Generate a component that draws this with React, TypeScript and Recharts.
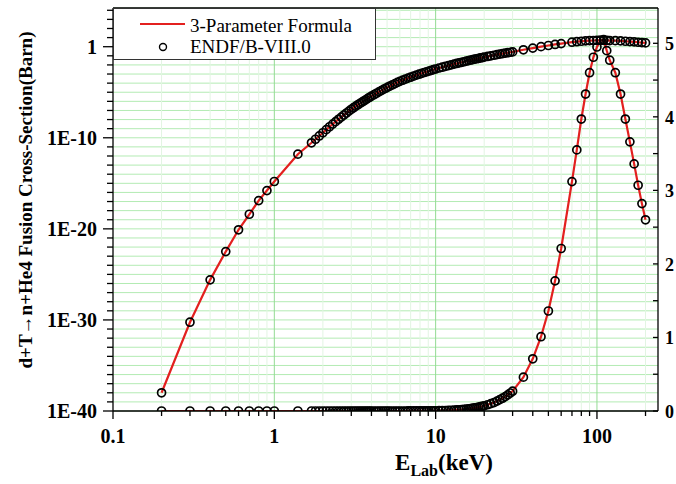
import { ComposedChart, Line, XAxis, YAxis, CartesianGrid, ReferenceLine, Legend } from "recharts";

const FONT = "'Liberation Serif', 'Times New Roman', serif";
const RED = "#e3201f";

// lab energy (keV), ENDF/B-VIII.0 points
const energy = [
  0.2, 0.3, 0.4, 0.5, 0.6, 0.7, 0.8, 0.9, 1.0, 1.4, 1.7,
  1.8, 1.9, 2.0, 2.1, 2.2, 2.3, 2.4, 2.5, 2.6, 2.7, 2.8, 2.9,
  3.0, 3.1, 3.2, 3.3, 3.4, 3.5, 3.6, 3.7, 3.8, 3.9,
  4.0, 4.15, 4.3, 4.45, 4.6, 4.75, 4.9, 5.05, 5.2, 5.4, 5.6, 5.8,
  6.0, 6.25, 6.5, 6.75, 7.0, 7.3, 7.6, 7.9, 8.2, 8.5, 8.8, 9.1, 9.4, 9.7,
  10, 10.5, 11, 11.5, 12, 12.5, 13, 13.5, 14, 14.5,
  15, 15.5, 16, 16.5, 17, 17.5, 18, 18.5, 19, 19.5,
  20, 21, 22, 23, 24, 25, 26, 27, 28, 29, 30,
  35, 40, 45, 50, 55, 60, 70, 75, 80, 85, 90, 95, 100, 105, 110,
  115, 120, 130, 140, 150, 160, 170, 180, 190, 200,
];

// cross-section (barn)
const sigma = [
  1.0e-38, 5.6e-31, 2.5e-26, 3.2e-23, 7.9e-21, 4.0e-19, 1.26e-17, 1.6e-16, 1.58e-15, 1.58e-12, 2.82e-11,
  6.92e-11, 1.58e-10, 3.55e-10, 7.76e-10, 1.62e-9, 3.16e-9, 5.89e-9, 1.07e-8, 1.86e-8, 3.16e-8, 5.25e-8, 8.51e-8,
  1.35e-7, 2.0e-7, 2.95e-7, 4.27e-7, 6.03e-7, 8.32e-7, 1.15e-6, 1.55e-6, 2.09e-6, 2.82e-6,
  3.72e-6, 5.37e-6, 7.76e-6, 1.1e-5, 1.51e-5, 2.04e-5, 2.75e-5, 3.63e-5, 4.68e-5, 6.61e-5, 8.91e-5, 1.2e-4,
  1.58e-4, 2.09e-4, 2.75e-4, 3.55e-4, 4.47e-4, 5.89e-4, 7.59e-4, 9.55e-4, 1.2e-3, 1.48e-3, 1.78e-3, 2.14e-3, 2.57e-3, 3.02e-3,
  3.55e-3, 4.57e-3, 5.62e-3, 7.08e-3, 8.51e-3, 1.02e-2, 1.23e-2, 1.45e-2, 1.7e-2, 1.95e-2,
  2.24e-2, 2.57e-2, 2.95e-2, 3.39e-2, 3.8e-2, 4.27e-2, 4.79e-2, 5.25e-2, 5.89e-2, 6.46e-2,
  7.08e-2, 8.51e-2, 0.1, 0.115, 0.135, 0.155, 0.174, 0.195, 0.219, 0.245, 0.269,
  0.46, 0.71, 1.01, 1.36, 1.77, 2.21, 3.12, 3.55, 3.97, 4.31, 4.6, 4.81, 4.95, 5.04, 5.05,
  4.9, 4.77, 4.6, 4.31, 3.97, 3.66, 3.36, 3.07, 2.82, 2.6,
];

const xMajorTicks = [0.1, 1, 10, 100];
const xMinorTicks = [0.2, 0.3, 0.4, 0.5, 0.6, 0.7, 0.8, 0.9, 2, 3, 4, 5, 6, 7, 8, 9, 20, 30, 40, 50, 60, 70, 80, 90, 200];
const logTickLabels: Record<number, string> = { [-40]: "1E-40", [-30]: "1E-30", [-20]: "1E-20", [-10]: "1E-10", 0: "1" };
const linTicks = [0, 0.5, 1, 1.5, 2, 2.5, 3, 3.5, 4, 4.5, 5];

const data = energy.map((e, i) => ({ e, s: sigma[i] }));
const xTicks = [...xMajorTicks, ...xMinorTicks].sort((a, b) => a - b);
const logTicks = Array.from({ length: 45 }, (_, i) => Number(`1e${i - 40}`));
const LOG_MAX = 1.78e4;

const labelStyle = { fontSize: 20, fontWeight: "bold" as const, fontFamily: FONT, fill: "#000" };
const endfDot = { r: 4, stroke: "#000", strokeWidth: 1.7, fill: "none" };

function XTick({ x, y, payload }: any) {
  const v = payload.value;
  const major = xMajorTicks.includes(v);
  return (
    <g>
      <line x1={x} x2={x} y1={y} y2={y + (major ? 8 : 5)} stroke="#000" strokeWidth={1.3} />
      {major && (
        <text x={x} y={y + 32} textAnchor="middle" {...labelStyle}>{String(v)}</text>
      )}
    </g>
  );
}

function LogTick({ x, y, payload }: any) {
  const k = Math.round(Math.log10(payload.value));
  const label = logTickLabels[k];
  return (
    <g>
      <line x1={x - (label ? 10 : 6)} x2={x} y1={y} y2={y} stroke="#000" strokeWidth={1.3} />
      {label && (
        <text x={x - 16} y={y + 7} textAnchor="end" {...labelStyle}>{label}</text>
      )}
    </g>
  );
}

function LinTick({ x, y, payload }: any) {
  const v = payload.value;
  return (
    <g>
      <line x1={x - 5} x2={x} y1={y} y2={y} stroke="#000" strokeWidth={1.3} />
      {Number.isInteger(v) && (
        <text x={x + 7} y={y + 7} textAnchor="start" {...labelStyle} fontSize={18}>{String(v)}</text>
      )}
    </g>
  );
}

function LegendBox() {
  return (
    <svg width={263} height={52} style={{ display: "block" }}>
      <rect x={0.5} y={0.5} width={262} height={51} fill="#fff" stroke="#333" />
      <line x1={27} x2={72} y1={16} y2={16} stroke={RED} strokeWidth={2.2} />
      <text x={77} y={24} fontSize={19} fontFamily={FONT} fill="#000">3-Parameter Formula</text>
      <circle cx={50} cy={39} r={3.5} fill="none" stroke="#000" strokeWidth={1.4} />
      <text x={77} y={45} fontSize={19} fontFamily={FONT} fill="#000">ENDF/B-VIII.0</text>
    </svg>
  );
}

const yTitle = () => (
  <text x={25} y={200} transform="rotate(-90 25 200)" textAnchor="middle" dominantBaseline="central"
    fontSize={19} fontWeight="bold" fontFamily={FONT} fill="#000">
    d+T→n+He4 Fusion Cross-Section(Barn)
  </text>
);

const xTitle = () => (
  <text x={444} y={470} textAnchor="middle" fontSize={23} fontWeight="bold" fontFamily={FONT} fill="#000">
    <tspan>E</tspan>
    <tspan dy={6} fontSize={16}>Lab</tspan>
    <tspan dy={-6}>(keV)</tspan>
  </text>
);

export default function App() {
  return (
    <div style={{ position: "absolute", left: 0, top: 0, background: "#fff" }}>
      <ComposedChart width={676} height={484} data={data} margin={{ top: 8, right: 0, left: 0, bottom: 0 }}>
        <CartesianGrid yAxisId="log" vertical={false} stroke="#b3ebb3" strokeWidth={1} />
        {xMinorTicks.map((v) => (
          <ReferenceLine key={"m" + v} yAxisId="log" x={v} stroke="#e2f5e2" strokeWidth={1} />
        ))}
        {xMajorTicks.slice(1).map((v) => (
          <ReferenceLine key={"M" + v} yAxisId="log" x={v} stroke="#93db93" strokeWidth={1} />
        ))}
        <XAxis
          dataKey="e" type="number" scale="log" domain={[0.1, 239]} allowDataOverflow
          ticks={xTicks} interval={0} tickSize={0} tickMargin={0} tickLine={false}
          tick={(p: any) => <XTick {...p} />} height={73}
          axisLine={{ stroke: "#000", strokeWidth: 1.3 }} label={xTitle}
        />
        <YAxis
          yAxisId="log" type="number" scale="log" domain={[1e-40, LOG_MAX]} allowDataOverflow
          ticks={logTicks} interval={0} tickSize={0} tickMargin={0} tickLine={false}
          tick={(p: any) => <LogTick {...p} />} width={113}
          axisLine={{ stroke: "#000", strokeWidth: 1.3 }} label={yTitle}
        />
        <YAxis
          yAxisId="lin" orientation="right" type="number" domain={[0, 5.48]} allowDataOverflow
          ticks={linTicks} interval={0} tickSize={0} tickMargin={0} tickLine={false}
          tick={(p: any) => <LinTick {...p} />} width={18}
          axisLine={{ stroke: "#000", strokeWidth: 1.3 }}
        />
        <ReferenceLine yAxisId="log" y={LOG_MAX} stroke="#000" strokeWidth={1.3} />
        <Line yAxisId="log" dataKey="s" name="3-Parameter Formula" type="linear" stroke={RED} strokeWidth={2.2}
          dot={false} activeDot={false} isAnimationActive={false} />
        <Line yAxisId="log" dataKey="s" name="ENDF/B-VIII.0" type="linear" stroke="none" strokeWidth={0}
          dot={endfDot} activeDot={false} isAnimationActive={false} />
        <Line yAxisId="lin" dataKey="s" name="ENDF/B-VIII.0 (linear)" type="linear" stroke="none" strokeWidth={0}
          dot={endfDot} activeDot={false} isAnimationActive={false} />
        <Line yAxisId="lin" dataKey="s" name="3-Parameter Formula (linear)" type="linear" stroke={RED} strokeWidth={2.2}
          dot={false} activeDot={false} isAnimationActive={false} />
        <Legend
          layout="horizontal" verticalAlign="middle" align="center"
          wrapperStyle={{ left: 113, top: 8, width: 263, height: 52 }}
          content={() => <LegendBox />}
        />
      </ComposedChart>
    </div>
  );
}
